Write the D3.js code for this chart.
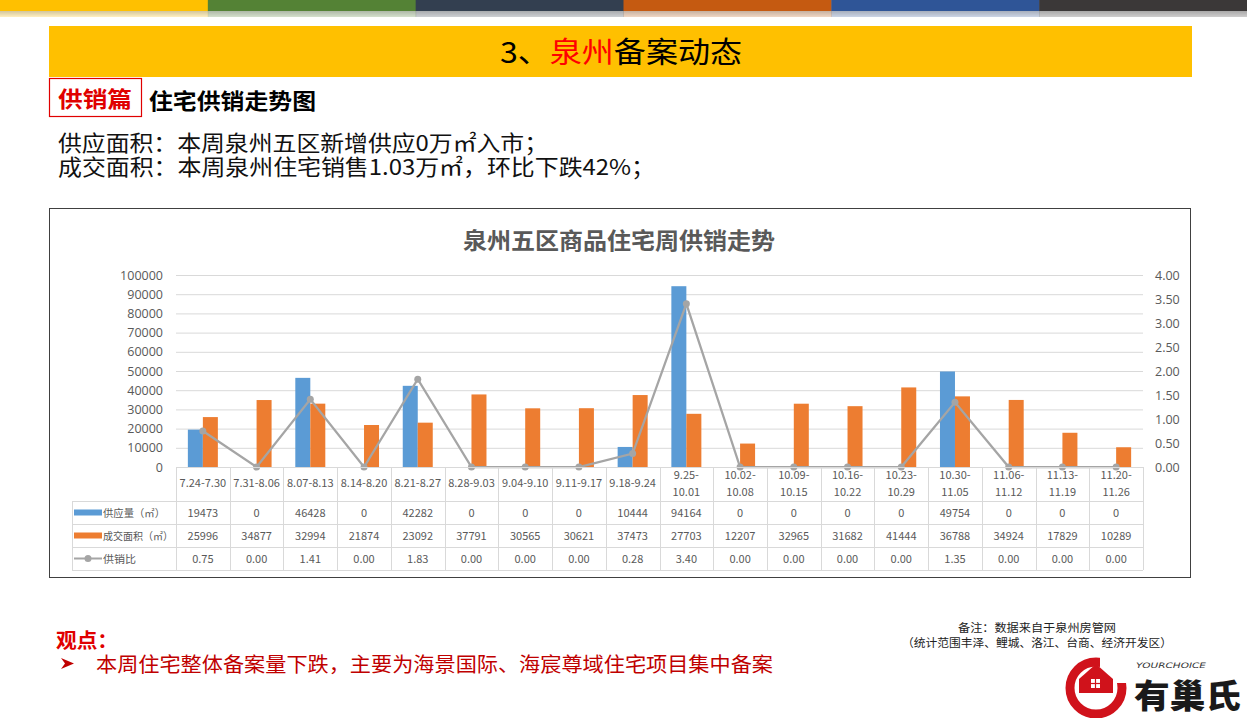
<!DOCTYPE html>
<html><head><meta charset="utf-8">
<script src="https://cdn.jsdelivr.net/npm/d3@7"></script>
<style>
html,body{margin:0;padding:0;background:#fff;}
svg{display:block;font-family:"Noto Sans CJK SC","Microsoft YaHei",sans-serif;}
</style></head>
<body><svg id="c" width="1247" height="718"></svg>
<script>
const categories = ['7.24-7.30','7.31-8.06','8.07-8.13','8.14-8.20','8.21-8.27','8.28-9.03','9.04-9.10','9.11-9.17','9.18-9.24','9.25-10.01','10.02-10.08','10.09-10.15','10.16-10.22','10.23-10.29','10.30-11.05','11.06-11.12','11.13-11.19','11.20-11.26'];
const supply = [19473,0,46428,0,42282,0,0,0,10444,94164,0,0,0,0,49754,0,0,0];
const deal = [25996,34877,32994,21874,23092,37791,30565,30621,37473,27703,12207,32965,31682,41444,36788,34924,17829,10289];
const ratio = [0.75,0.00,1.41,0.00,1.83,0.00,0.00,0.00,0.28,3.40,0.00,0.00,0.00,0.00,1.35,0.00,0.00,0.00];
const leftTicks = [0,10000,20000,30000,40000,50000,60000,70000,80000,90000,100000];
const rightTicks = [0,0.5,1,1.5,2,2.5,3,3.5,4];
const seriesNames = ['供应量（㎡）','成交面积（㎡）','供销比'];

const svg = d3.select('#c');
const CJK = '"Noto Sans CJK SC","Microsoft YaHei",sans-serif';

// top colour strip
const strip = ['#FFC000','#548235','#333F50','#C55A11','#2F5597','#3B3838'];
const defs = svg.append('defs');
const g1 = defs.append('linearGradient').attr('id','shade').attr('x1',0).attr('y1',0).attr('x2',0).attr('y2',1);
g1.append('stop').attr('offset','0').attr('stop-color','#000').attr('stop-opacity',0.18);
g1.append('stop').attr('offset','1').attr('stop-color','#000').attr('stop-opacity',0);
const sx = d3.scaleBand().domain(d3.range(6)).range([0,1247]);
svg.selectAll('rect.strip').data(strip).join('rect').attr('class','strip')
  .attr('x',(d,i)=>sx(i)).attr('y',0).attr('width',sx.bandwidth()+0.5).attr('height',11).attr('fill',d=>d);
svg.selectAll('rect.strip2').data(strip).join('rect').attr('class','strip2')
  .attr('x',(d,i)=>sx(i)).attr('y',11).attr('width',sx.bandwidth()+0.5).attr('height',6).attr('fill',d=>d).attr('opacity',0.25);
svg.append('rect').attr('x',0).attr('y',11).attr('width',1247).attr('height',6).attr('fill','url(#shade)');

// header band
svg.append('rect').attr('x',49).attr('y',26).attr('width',1143).attr('height',51).attr('fill','#FFC000');
const ht = svg.append('text').attr('x',500).attr('y',63)
  .attr('font-size',29).attr('fill','#000').attr('font-family',CJK)
  .attr('textLength',242).attr('lengthAdjust','spacingAndGlyphs');
ht.append('tspan').text('3、');
ht.append('tspan').attr('fill','#FF0000').text('泉州');
ht.append('tspan').text('备案动态');

// subtitle box
svg.append('rect').attr('x',49.5).attr('y',78.5).attr('width',92).attr('height',38).attr('fill','#fff').attr('stroke','#E00000').attr('stroke-width',1.2);
svg.append('text').attr('x',58).attr('y',107).attr('font-size',22).attr('font-weight','bold').attr('fill','#E00000')
  .attr('textLength',74).attr('lengthAdjust','spacingAndGlyphs').text('供销篇');
svg.append('text').attr('x',149).attr('y',109).attr('font-size',22).attr('font-weight','bold').attr('fill','#000')
  .attr('textLength',167).attr('lengthAdjust','spacingAndGlyphs').text('住宅供销走势图');

svg.append('text').attr('x',58).attr('y',151).attr('font-size',22).attr('fill','#111')
  .attr('textLength',490).attr('lengthAdjust','spacingAndGlyphs').text('供应面积：本周泉州五区新增供应0万㎡入市；');
svg.append('text').attr('x',58).attr('y',175).attr('font-size',22).attr('fill','#111')
  .attr('textLength',597).attr('lengthAdjust','spacingAndGlyphs').text('成交面积：本周泉州住宅销售1.03万㎡，环比下跌42%；');

// chart frame
svg.append('rect').attr('x',49.5).attr('y',208.5).attr('width',1141).attr('height',369).attr('fill','#fff').attr('stroke','#404040').attr('stroke-width',1);
svg.append('text').attr('x',463).attr('y',249).attr('font-size',23).attr('font-weight','bold').attr('fill','#595959')
  .attr('textLength',312).attr('lengthAdjust','spacingAndGlyphs').text('泉州五区商品住宅周供销走势');

const x = d3.scaleBand().domain(categories).range([176,1143]);
const yL = d3.scaleLinear().domain([0,100000]).range([467,275]);
const yR = d3.scaleLinear().domain([0,4]).range([467,275]);
const grey = '#595959';

// gridlines
svg.append('g').selectAll('line').data(leftTicks).join('line')
  .attr('x1',176).attr('x2',1143).attr('y1',d=>yL(d)+0.5).attr('y2',d=>yL(d)+0.5).attr('stroke','#D9D9D9');

// axes labels
const axL = svg.append('g').attr('transform','translate(163,0)').call(d3.axisLeft(yL).tickValues(leftTicks).tickFormat(d3.format('d')).tickSize(0).tickPadding(0));
axL.select('.domain').remove();
axL.selectAll('text').attr('font-size',12.5).attr('fill',grey).attr('font-family','"Open Sans","Noto Sans",sans-serif');
const axR = svg.append('g').attr('transform','translate(1155,0)').call(d3.axisRight(yR).tickValues(rightTicks).tickFormat(d3.format('.2f')).tickSize(0).tickPadding(0));
axR.select('.domain').remove();
axR.selectAll('text').attr('font-size',12.5).attr('fill',grey).attr('font-family','"Open Sans","Noto Sans",sans-serif');

// bars
const bw = 15;
svg.append('g').selectAll('rect').data(supply).join('rect')
  .attr('x',(d,i)=>x(categories[i])+x.bandwidth()/2-bw).attr('width',bw)
  .attr('y',d=>yL(d)).attr('height',d=>yL(0)-yL(d)).attr('fill','#5B9BD5');
svg.append('g').selectAll('rect').data(deal).join('rect')
  .attr('x',(d,i)=>x(categories[i])+x.bandwidth()/2).attr('width',bw)
  .attr('y',d=>yL(d)).attr('height',d=>yL(0)-yL(d)).attr('fill','#ED7D31');

// line
const line = d3.line().x((d,i)=>x(categories[i])+x.bandwidth()/2).y(d=>yR(d));
svg.append('path').datum(ratio).attr('d',line).attr('fill','none').attr('stroke','#A5A5A5').attr('stroke-width',2.25);
svg.append('g').selectAll('circle').data(ratio).join('circle')
  .attr('cx',(d,i)=>x(categories[i])+x.bandwidth()/2).attr('cy',d=>yR(d)).attr('r',3.5).attr('fill','#A5A5A5');

// data table
const tL = 72, tTop = 467, hdrB = 501, rowH = 23;
const rowsY = [hdrB, hdrB+rowH, hdrB+2*rowH, hdrB+3*rowH];
const tg = svg.append('g').attr('stroke','#D9D9D9').attr('stroke-width',1);
tg.append('line').attr('x1',176).attr('x2',1143).attr('y1',tTop+0.5).attr('y2',tTop+0.5);
rowsY.forEach(yv=>tg.append('line').attr('x1',tL).attr('x2',1143).attr('y1',yv+0.5).attr('y2',yv+0.5));
categories.forEach(c=>tg.append('line').attr('x1',Math.round(x(c))+0.5).attr('x2',Math.round(x(c))+0.5).attr('y1',tTop).attr('y2',rowsY[3]));
tg.append('line').attr('x1',1143.5).attr('x2',1143.5).attr('y1',tTop).attr('y2',rowsY[3]);
tg.append('line').attr('x1',tL+0.5).attr('x2',tL+0.5).attr('y1',hdrB).attr('y2',rowsY[3]);

const tf = '"Noto Sans CJK SC",sans-serif';
categories.forEach(c=>{
  const cx = x(c)+x.bandwidth()/2;
  const t = svg.append('text').attr('x',cx).attr('text-anchor','middle').attr('font-size',11).attr('fill',grey).attr('font-family',tf);
  if (c.length>9){
    const parts = c.split('-');
    t.attr('y',479);
    t.append('tspan').attr('x',cx).attr('dy',0).text(parts[0]+'-');
    t.append('tspan').attr('x',cx).attr('dy',17).text(parts[1]);
  } else {
    t.attr('y',487).text(c);
  }
});
const rowsData = [supply, deal, ratio];
rowsData.forEach((arr,r)=>{
  arr.forEach((v,i)=>{
    svg.append('text').attr('x',x(categories[i])+x.bandwidth()/2).attr('y',rowsY[r]+16)
      .attr('text-anchor','middle').attr('font-size',11).attr('fill',grey).attr('font-family',tf)
      .text(r===2?d3.format('.2f')(v):String(v));
  });
});
// legend keys
const keyColors = ['#5B9BD5','#ED7D31'];
keyColors.forEach((col,r)=>{
  svg.append('rect').attr('x',74).attr('y',rowsY[r]+8.5).attr('width',28).attr('height',6).attr('fill',col);
});
svg.append('line').attr('x1',74).attr('x2',102).attr('y1',rowsY[2]+11.5).attr('y2',rowsY[2]+11.5).attr('stroke','#A5A5A5').attr('stroke-width',2);
svg.append('circle').attr('cx',88).attr('cy',rowsY[2]+11.5).attr('r',3.5).attr('fill','#A5A5A5');
const nameW = [62,70,33];
seriesNames.forEach((n,r)=>{
  svg.append('text').attr('x',103).attr('y',rowsY[r]+16).attr('font-size',10.5).attr('fill',grey).attr('font-family',tf)
    .attr('textLength',nameW[r]).attr('lengthAdjust','spacingAndGlyphs').text(n);
});

// bottom commentary
svg.append('text').attr('x',56).attr('y',648).attr('font-size',20).attr('font-weight','bold').attr('fill','#E00000')
  .attr('textLength',62).attr('lengthAdjust','spacingAndGlyphs').text('观点：');
// bullet arrowhead
svg.append('path').attr('d','M61,658 L74,663.5 L61,669 L65,663.5 Z').attr('fill','#C00000');
svg.append('text').attr('x',96).attr('y',672).attr('font-size',20).attr('fill','#C00000')
  .attr('textLength',677).attr('lengthAdjust','spacingAndGlyphs').text('本周住宅整体备案量下跌，主要为海景国际、海宸尊域住宅项目集中备案');

svg.append('text').attr('x',958).attr('y',632).attr('font-size',11.5).attr('fill','#222')
  .attr('textLength',158).attr('lengthAdjust','spacingAndGlyphs').text('备注：数据来自于泉州房管网');
svg.append('text').attr('x',902).attr('y',647).attr('font-size',11.5).attr('fill','#222')
  .attr('textLength',270).attr('lengthAdjust','spacingAndGlyphs').text('（统计范围丰泽、鲤城、洛江、台商、经济开发区）');

// logo
const lg = svg.append('g');
lg.append('circle').attr('cx',1096).attr('cy',688).attr('r',26).attr('fill','none').attr('stroke','#D0121B').attr('stroke-width',9);
lg.append('rect').attr('x',1100).attr('y',655).attr('width',32).attr('height',28).attr('fill','#fff');
lg.append('path').attr('d','M1079,693 L1079,679 L1096,664 L1113,679 L1113,693 Z').attr('fill','#D0121B');
lg.append('rect').attr('x',1091).attr('y',679).attr('width',9).attr('height',9).attr('fill','#fff');
lg.append('line').attr('x1',1095.5).attr('x2',1095.5).attr('y1',679).attr('y2',688).attr('stroke','#D0121B').attr('stroke-width',1.2);
lg.append('line').attr('x1',1091).attr('x2',1100).attr('y1',683.5).attr('y2',683.5).attr('stroke','#D0121B').attr('stroke-width',1.2);
lg.append('text').attr('x',1136).attr('y',668).attr('font-size',7.5).attr('font-style','italic').attr('fill','#333').attr('font-family','"DejaVu Sans",sans-serif')
  .attr('textLength',70).attr('lengthAdjust','spacingAndGlyphs').text('YOURCHOICE');
lg.append('text').attr('x',1134).attr('y',708).attr('font-size',33).attr('font-weight',900).attr('fill','#1a1a1a')
  .attr('textLength',107).attr('lengthAdjust','spacingAndGlyphs').text('有巢氏');
</script></body></html>
